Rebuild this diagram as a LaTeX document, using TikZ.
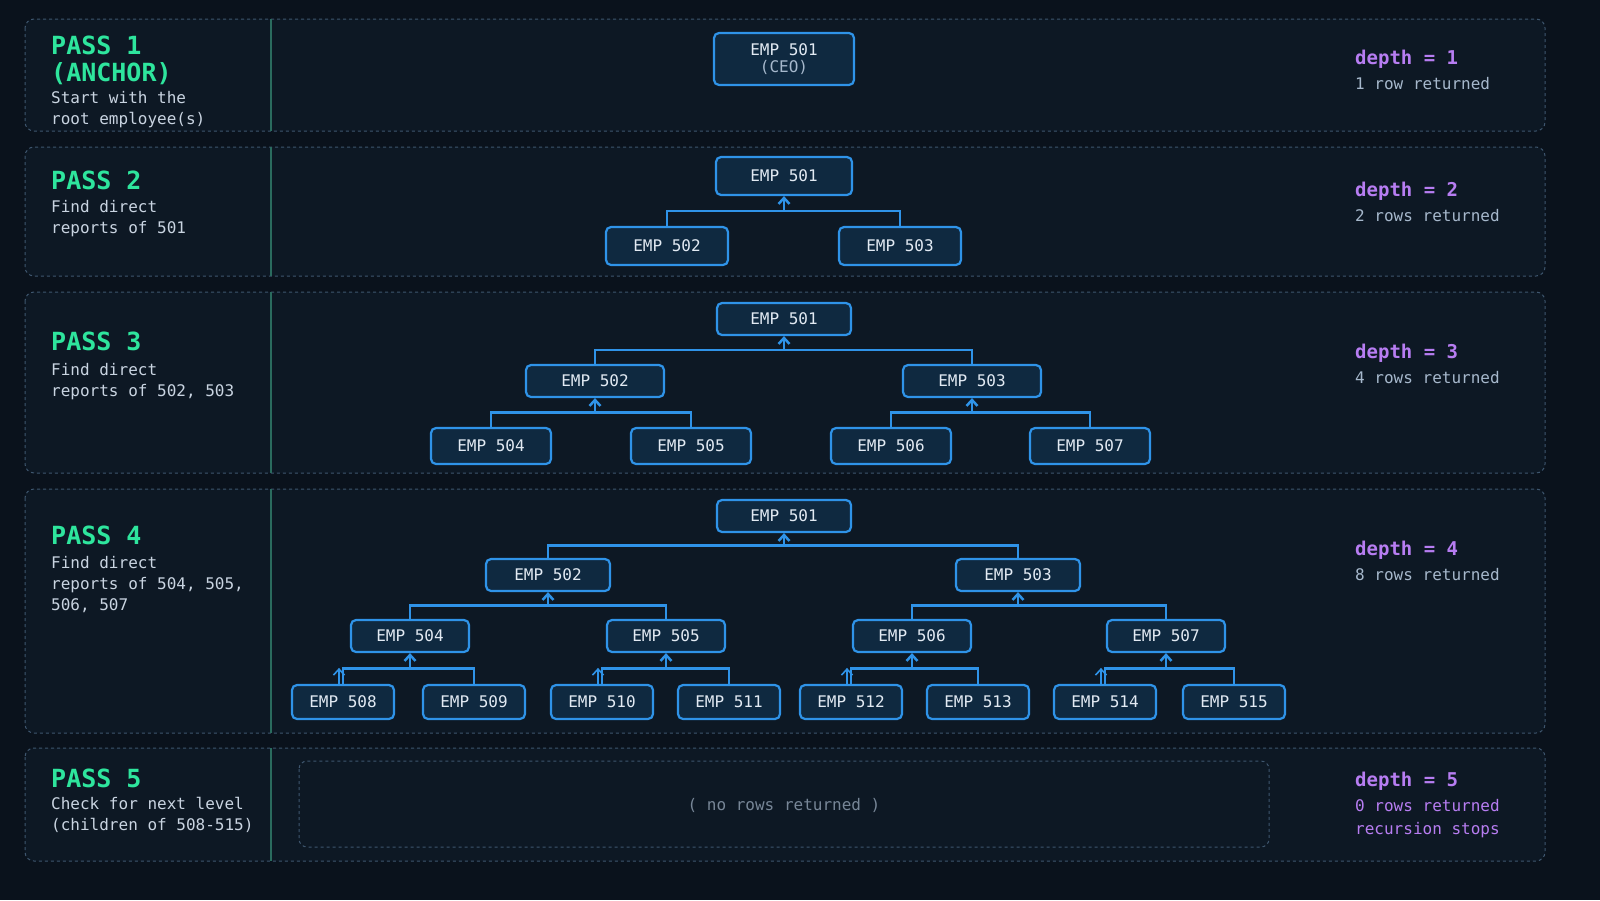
\documentclass[tikz,border=0pt]{standalone}
\usepackage{fontspec}
\setmainfont{DejaVu Sans Mono}
\usetikzlibrary{arrows.meta,positioning,calc}
\definecolor{bgdark}{HTML}{0A121C}
\definecolor{panelbg}{HTML}{0D1824}
\definecolor{passgreen}{HTML}{2EE59D}
\definecolor{empblue}{HTML}{2F93E8}
\definecolor{empfill}{HTML}{0F2940}
\definecolor{empt}{HTML}{E2EAF3}
\definecolor{desct}{HTML}{C9D4E1}
\definecolor{depthp}{HTML}{B77DF2}
\definecolor{subt}{HTML}{A6B8CC}
\definecolor{dashc}{HTML}{3E566E}
\definecolor{divc}{HTML}{2A6B5E}

% parent, left child, right child
\newcommand\kids[3]{%
  \coordinate (m) at ($(#1.south)!.5!(#2.north)$);
  \draw[link] (#2.north) |- (m -| #3.north) -- (#3.north);
  \draw[link,->] (m -| #1.south) -- (#1.south);}

\begin{document}
\begin{tikzpicture}
[x=1pt,y=-1pt,font=\fontsize{16}{19}\selectfont,
panel/.style={draw=dashc,dashed,line width=1pt,rounded corners=9pt,fill=panelbg},
emp/.style={draw=empblue,line width=2.2pt,rounded corners=5pt,fill=empfill,text=empt,inner sep=0pt,align=center},
link/.style={empblue,line width=2.5pt,>={Straight Barb[length=6pt,width=11pt]}},
title/.style={anchor=north west,text=passgreen,font=\fontsize{25}{27}\selectfont\bfseries,inner sep=0pt,align=left},
desc/.style={anchor=north west,text=desct,inner sep=0pt,align=left,font=\fontsize{16}{21}\selectfont},
depth/.style={anchor=west,text=depthp,font=\fontsize{19}{20}\selectfont\bfseries,inner sep=0pt},
sub/.style={anchor=west,text=subt,inner sep=0pt,align=left,font=\fontsize{16}{24}\selectfont}]
%%%%%%%%%%
\fill[bgdark] (0,0) rectangle (1600,900);
\useasboundingbox (0,0) rectangle (1600,900);

% panels
\foreach \top/\bot in {19/131,147/276,292/473,489/733,748/861} {
  \draw[panel] (25,\top) rectangle (1545,\bot);
  \draw[divc,line width=1.4pt] (271,\top) -- (271,\bot);
}

% left texts
\node[title] (t1) at (51,36) {PASS 1\\(ANCHOR)};
\node[desc,below=6pt of t1.south west,anchor=north west] (d1) {Start with the\\root employee(s)};
\node[title] (t2) at (51,171) {PASS 2};
\node[desc] (d2) at (51,200) {Find direct\\reports of 501};
\node[title] (t3) at (51,332) {PASS 3};
\node[desc] (d3) at (51,363) {Find direct\\reports of 502, 503};
\node[title] (t4) at (51,526) {PASS 4};
\node[desc] (d4) at (51,556) {Find direct\\reports of 504, 505,\\506, 507};
\node[title] (t5) at (51,769) {PASS 5};
\node[desc] (d5) at (51,797) {Check for next level\\(children of 508-515)};

% right texts
\foreach \n/\y/\rows in {1/59/1 row,2/191/2 rows,3/353/4 rows,4/550/8 rows} {
  \node[depth] (dp\n) at (1355,\y) {depth = \n};
  \node[sub] (rw\n) at (1355,\y+25) {\rows\ returned};
}
\node[depth] (dp5) at (1355,781) {depth = 5};
\node[sub,text=depthp] (rw5) at (1355,806) {0 rows returned};
\node[sub,text=depthp] (rs5) at (1355,830) {recursion stops};

% pass 1
\node[emp,minimum width=140,minimum height=52] (a501) at (784,59) {EMP 501\\[-2pt]{\color{subt}(CEO)}};

% pass 2
\node[emp,minimum width=136,minimum height=38] (b501) at (784,176) {EMP 501};
\node[emp,minimum width=122,minimum height=38] (b502) at (667,246) {EMP 502};
\node[emp,minimum width=122,minimum height=38] (b503) at (900,246) {EMP 503};
\kids{b501}{b502}{b503}

% pass 3
\node[emp,minimum width=134,minimum height=32] (c501) at (784,319) {EMP 501};
\foreach \e/\x in {502/595,503/972}
  \node[emp,minimum width=138,minimum height=32] (c\e) at (\x,381) {EMP \e};
\foreach \e/\x in {504/491,505/691,506/891,507/1090}
  \node[emp,minimum width=120,minimum height=36] (c\e) at (\x,446) {EMP \e};
\kids{c501}{c502}{c503}
\kids{c502}{c504}{c505}
\kids{c503}{c506}{c507}

% pass 4
\node[emp,minimum width=134,minimum height=32] (e501) at (784,516) {EMP 501};
\foreach \e/\x in {502/548,503/1018}
  \node[emp,minimum width=124,minimum height=32] (e\e) at (\x,575) {EMP \e};
\foreach \e/\x in {504/410,505/666,506/912,507/1166}
  \node[emp,minimum width=118,minimum height=32] (e\e) at (\x,636) {EMP \e};
\foreach \e/\x in {508/343,509/474,510/602,511/729,512/851,513/978,514/1105,515/1234}
  \node[emp,minimum width=102,minimum height=34] (e\e) at (\x,702) {EMP \e};
\kids{e501}{e502}{e503}
\kids{e502}{e504}{e505}
\kids{e503}{e506}{e507}
\kids{e504}{e508}{e509}
\kids{e505}{e510}{e511}
\kids{e506}{e512}{e513}
\kids{e507}{e514}{e515}
\foreach \e in {508,510,512,514}
  \draw[link,->,line width=1.6pt] ([xshift=-4pt]e\e.north) -- ++(0,-16);

% pass 5
\draw[dashc,dashed,line width=1pt,rounded corners=8pt] (299,761) rectangle (1269,847);
\node[text=subt!70!bgdark] (none) at (784,805) {( no rows returned )};
\end{tikzpicture}
\end{document}
